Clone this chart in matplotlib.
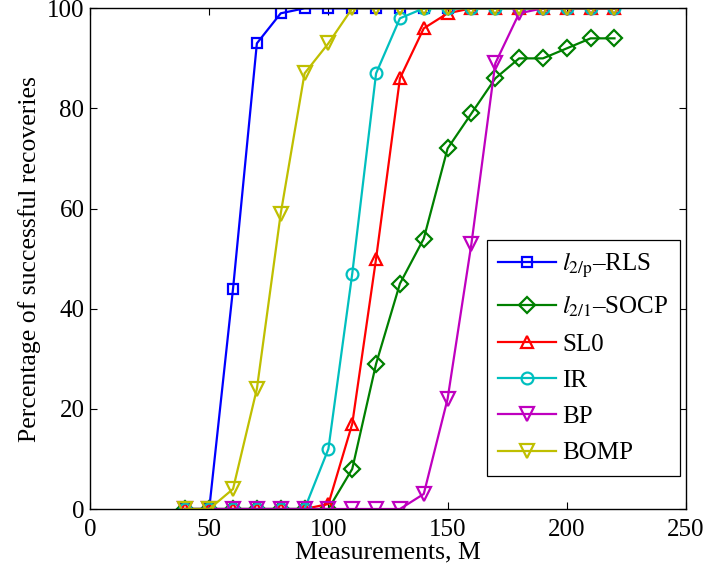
import numpy as np
import matplotlib
matplotlib.use('Agg')
import matplotlib.pyplot as plt

plt.rcParams['font.family'] = 'Liberation Serif'
plt.rcParams['mathtext.fontset'] = 'stix'

# Number of measurements M
M = [40, 50, 60, 70, 80, 90, 100, 110, 120, 130, 140, 150, 160, 170, 180, 190, 200, 210, 220]

# Percentage of successful recoveries for each algorithm
rls  = [0, 0, 44, 93, 99, 100, 100, 100, 100, 100, 100, 100, 100, 100, 100, 100, 100, 100, 100]
socp = [0, 0, 0, 0, 0, 0, 0, 8, 29, 45, 54, 72, 79, 86, 90, 90, 92, 94, 94]
sl0  = [0, 0, 0, 0, 0, 0, 1, 17, 50, 86, 96, 99, 100, 100, 100, 100, 100, 100, 100]
ir   = [0, 0, 0, 0, 0, 0, 12, 47, 87, 98, 100, 100, 100, 100, 100, 100, 100, 100, 100]
bp   = [0, 0, 0, 0, 0, 0, 0, 0, 0, 0, 3, 22, 53, 89, 99, 100, 100, 100, 100]
bomp = [0, 0, 4, 24, 59, 87, 93, 100, 100, 100, 100, 100, 100, 100, 100, 100, 100, 100, 100]

labels = [r'$l_{2/\mathrm{p}}$–RLS', r'$l_{2/1}$–SOCP', 'SL0', 'IR', 'BP', 'BOMP']
series = [rls, socp, sl0, ir, bp, bomp]
colors = ['#0000ff', '#008000', '#ff0000', '#00bfbf', '#bf00bf', '#bfbf00']
markers = ['s', 'D', '^', 'o', 'v', 'v']
msizes = [7, 8, 9, 8.5, 9.5, 9.5]

fig = plt.figure(figsize=(7.08, 5.77), dpi=100)
ax = fig.add_axes([90 / 708, 1 - 509 / 577, 596 / 708, 500.7 / 577])

for y, lab, c, m, ms in zip(series, labels, colors, markers, msizes):
    ax.plot(M, y, color=c, marker=m, markersize=ms, markerfacecolor='none',
            markeredgewidth=1.6, linewidth=1.6, label=lab)

ax.set_xlim(0, 250)
ax.set_ylim(0, 100)
ax.set_xticks(np.arange(0, 251, 50))
ax.set_yticks(np.arange(0, 101, 20))
ax.tick_params(direction='in', top=True, right=True, labelsize=18, length=5, width=0.8)
ax.tick_params(axis='x', pad=7)
ax.tick_params(axis='y', pad=4)
for s in ax.spines.values():
    s.set_linewidth(1.0)

ax.set_xlabel('Measurements, M', fontsize=18.5, labelpad=0.5)
ax.set_ylabel('Percentage of successful recoveries', fontsize=18.5, labelpad=4)

leg = ax.legend(loc='upper left', bbox_to_anchor=(397 / 596, 269 / 500.7), fontsize=18,
                numpoints=1, handlelength=2.3, handletextpad=0.25, borderpad=0.45,
                labelspacing=0.55, fancybox=False, framealpha=1, borderaxespad=0)
leg.get_frame().set_edgecolor('black')
leg.get_frame().set_linewidth(0.9)

fig.savefig('out.png', dpi=100)
